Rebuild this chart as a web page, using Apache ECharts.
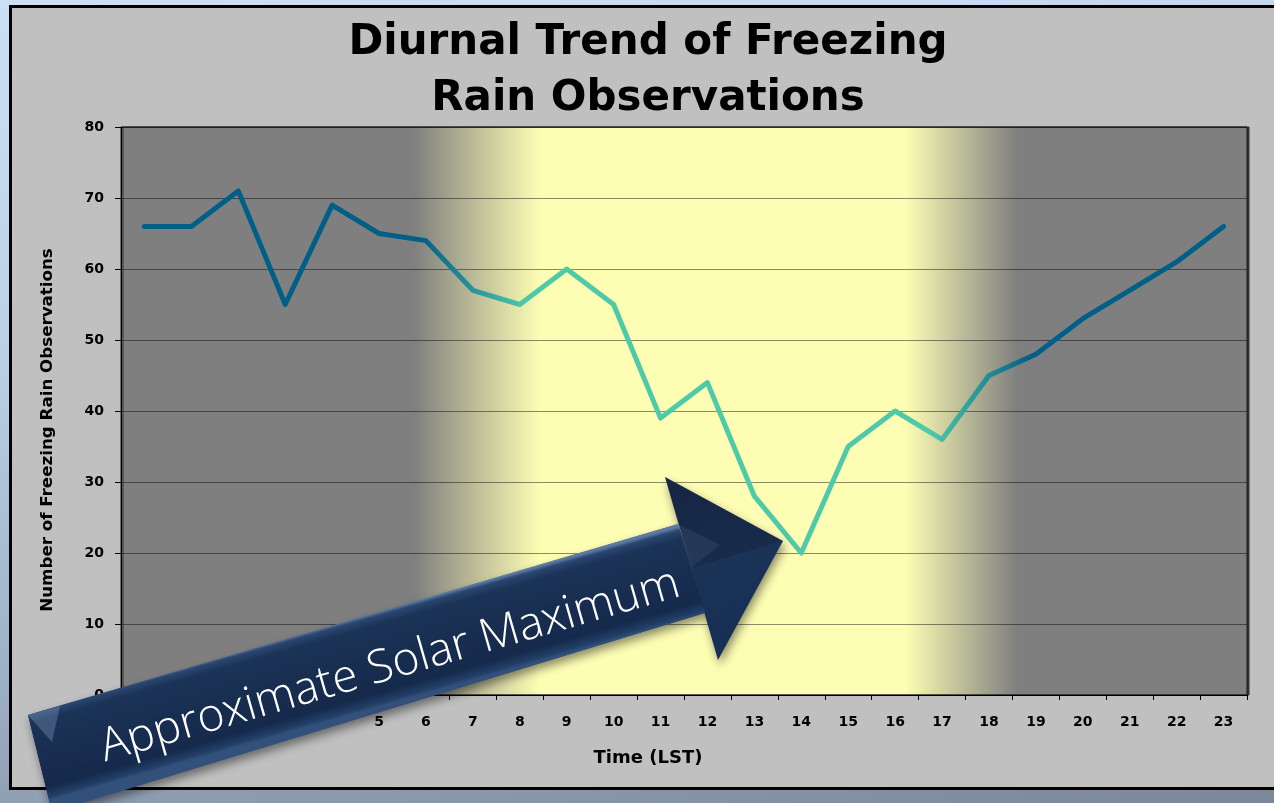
<!DOCTYPE html>
<html>
<head>
<meta charset="utf-8">
<script src="https://cdn.jsdelivr.net/npm/echarts@6/dist/echarts.min.js"></script>
<style>
  html, body { margin: 0; padding: 0; width: 1274px; height: 803px; overflow: hidden; }
  body { background: linear-gradient(172deg, #cddff4 0%, #bdd0e8 35%, #9dafc6 70%, #7b8798 100%); }
  #panel { position: absolute; left: 9px; top: 5px; width: 1320px; height: 785px; box-sizing: border-box;
           border: 3px solid #000; background: #c0c0c0; }
  #chart { position: absolute; left: 0; top: 0; width: 1274px; height: 803px; }
</style>
</head>
<body>
<div id="panel"></div>
<div id="chart"></div>
<script>
// Hour of day (local standard time)
const hours = ['0','1','2','3','4','5','6','7','8','9','10','11','12','13','14','15','16','17','18','19','20','21','22','23'];
// Freezing rain observation counts per hour
const counts = [66, 66, 71, 55, 69, 65, 64, 57, 55, 60, 55, 39, 44, 28, 20, 35, 40, 36, 45, 48, 53, 57, 61, 66];

const titleText = 'Diurnal Trend of Freezing\nRain Observations';
const yName = 'Number of Freezing Rain Observations';
const xName = 'Time (LST)';
const calloutText = 'Approximate Solar Maximum';

// plot rectangle
const G = { left: 121, right: 27, top: 127, bottom: 108 };
const plotW = 1274 - G.left - G.right;
const frac = px => (px - G.left) / plotW;

const NIGHT = '#7f7f7f', DAY = '#fdfdb4';
const DARK_LINE = '#005f87', LIGHT_LINE = '#4fcaa8';

const labelFont = { color: '#000', fontWeight: 'bold', fontSize: 14, fontFamily: 'DejaVu Sans' };

const chart = echarts.init(document.getElementById('chart'), null, { renderer: 'canvas' });

// daylight band painted across the plot area
const dayBand = {
  type: 'linear', x: 0, y: 0, x2: 1, y2: 0,
  colorStops: [
    { offset: 0, color: NIGHT },
    { offset: frac(414), color: NIGHT },
    { offset: frac(540), color: DAY },
    { offset: frac(905), color: DAY },
    { offset: frac(1017), color: NIGHT },
    { offset: 1, color: NIGHT }
  ]
};

const lineGrad = {
  type: 'linear', global: true, x: G.left, y: 0, x2: G.left + plotW, y2: 0,
  colorStops: [
    { offset: 0, color: DARK_LINE },
    { offset: frac(420), color: DARK_LINE },
    { offset: frac(525), color: LIGHT_LINE },
    { offset: frac(930), color: LIGHT_LINE },
    { offset: frac(1030), color: DARK_LINE },
    { offset: 1, color: DARK_LINE }
  ]
};

// callout arrow geometry
const shaft = [[28, 715], [678, 524], [705, 613], [52, 812]];
const head = [[665, 477], [783, 541], [718, 660]];
const ridge = [691, 568];

const shaftFill = {
  type: 'linear', global: true, x: 350, y: 620, x2: 375, y2: 708,
  colorStops: [
    { offset: 0, color: '#5d7aa2' },
    { offset: 0.04, color: '#2a4670' },
    { offset: 0.13, color: '#1b3357' },
    { offset: 0.85, color: '#15294b' },
    { offset: 0.96, color: '#223f68' },
    { offset: 1, color: '#33507a' }
  ]
};
const headFill = {
  type: 'linear', global: true, x: 700, y: 480, x2: 740, y2: 650,
  colorStops: [
    { offset: 0, color: '#1a2d4f' },
    { offset: 0.45, color: '#1c3358' },
    { offset: 1, color: '#172e55' }
  ]
};
const arrowShadow = { shadowBlur: 10, shadowOffsetX: 2, shadowOffsetY: 5, shadowColor: 'rgba(0,0,0,0.45)' };
const TOP = 100;

chart.setOption({
  animation: false,
  backgroundColor: 'transparent',
  title: {
    text: titleText,
    left: 648,
    textAlign: 'center',
    top: 15,
    padding: 0,
    textStyle: { fontFamily: 'DejaVu Sans', fontWeight: 'bold', fontSize: 42, lineHeight: 56, color: '#000' }
  },
  grid: {
    left: G.left, right: G.right, top: G.top, bottom: G.bottom,
    show: true, backgroundColor: dayBand, borderColor: '#1e1e1e', borderWidth: 1,
    shadowColor: '#333', shadowOffsetX: 2, shadowBlur: 0
  },
  xAxis: {
    type: 'category',
    data: hours,
    boundaryGap: true,
    axisLine: { lineStyle: { color: '#000', width: 1 } },
    axisTick: { show: true, length: 5, lineStyle: { color: '#000' } },
    axisLabel: Object.assign({ margin: 20 }, labelFont),
    splitLine: { show: false },
    name: xName,
    nameLocation: 'middle',
    nameGap: 54,
    nameTextStyle: { color: '#000', fontWeight: 'bold', fontSize: 18, fontFamily: 'DejaVu Sans', padding: [0, 72, 0, 0] }
  },
  yAxis: {
    type: 'value',
    min: 0, max: 80, interval: 10,
    axisLine: { show: true, lineStyle: { color: '#000', width: 1 } },
    axisTick: { show: true, length: 6, lineStyle: { color: '#000' } },
    axisLabel: Object.assign({ margin: 17 }, labelFont),
    splitLine: { show: true, lineStyle: { color: 'rgba(0,0,0,0.45)', width: 1 } },
    name: yName,
    nameLocation: 'middle',
    nameGap: 65,
    nameRotate: 90,
    nameTextStyle: { color: '#000', fontWeight: 'bold', fontSize: 16.7, fontFamily: 'DejaVu Sans', padding: [0, 38, 0, 0] }
  },
  series: [{
    type: 'line',
    data: counts,
    symbol: 'none',
    lineStyle: { width: 5, color: lineGrad, cap: 'round', join: 'round' },
    z: 3
  }],
  graphic: [
    { type: 'polygon', z: TOP, shape: { points: shaft }, style: Object.assign({ fill: shaftFill }, arrowShadow) },
    { type: 'polygon', z: TOP, shape: { points: head }, style: Object.assign({ fill: headFill }, arrowShadow) },
    // repaint shaft without shadow so the head shadow does not fall on it
    { type: 'polygon', z: TOP + 1, shape: { points: shaft }, style: { fill: shaftFill } },
    // bevel facets of the arrow head
    { type: 'polygon', z: TOP + 2, shape: { points: [head[0], head[1], ridge] }, style: { fill: 'rgba(0,0,0,0.14)' } },
    { type: 'polygon', z: TOP + 2, shape: { points: [[678, 524], [720, 545], ridge] }, style: { fill: 'rgba(110,140,185,0.14)' } },
    // bevel at the back end of the shaft
    { type: 'polygon', z: TOP + 2, shape: { points: [[28, 715], [60, 706], [52, 742]] }, style: { fill: 'rgba(150,175,210,0.3)' } },
    {
      type: 'text',
      z: TOP + 3,
      x: 390, y: 666,
      rotation: 0.28,
      style: {
        text: calloutText,
        fill: '#ffffff',
        fontFamily: 'Open Sans',
        fontWeight: 300,
        fontSize: 46,
        align: 'center',
        verticalAlign: 'middle'
      }
    }
  ]
});
</script>
</body>
</html>
